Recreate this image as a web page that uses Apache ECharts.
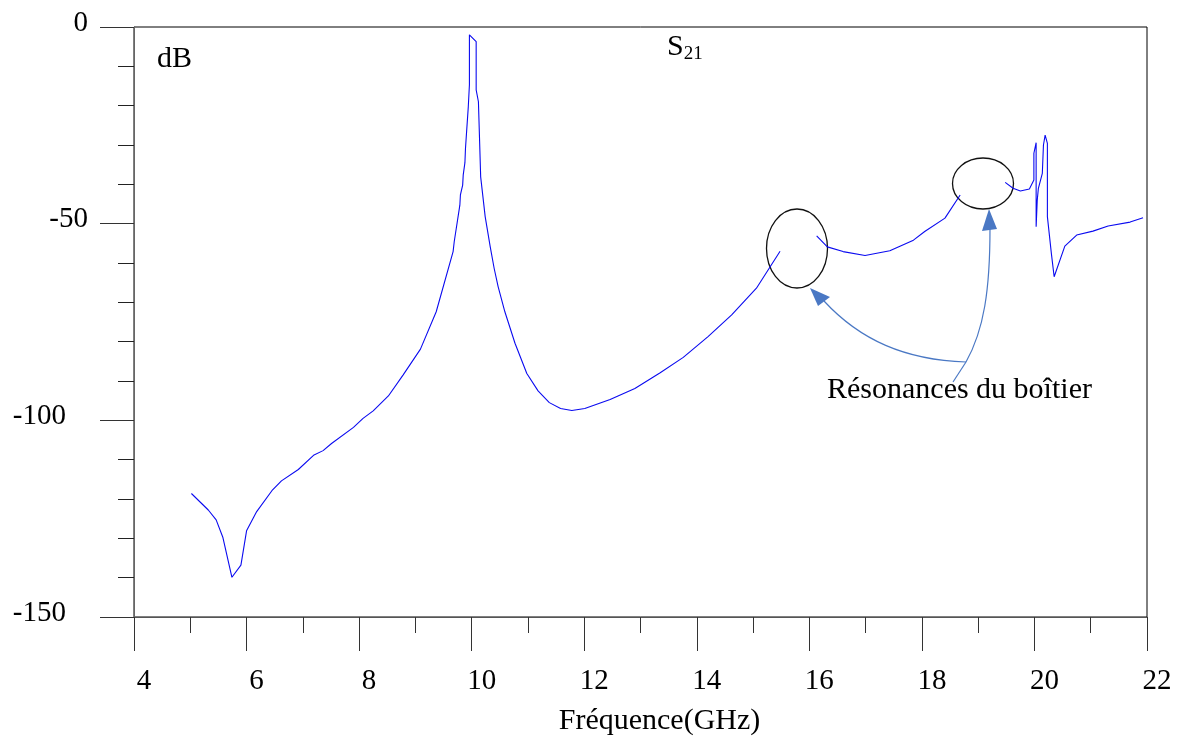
<!DOCTYPE html>
<html>
<head>
<meta charset="utf-8">
<script src="https://cdn.jsdelivr.net/npm/echarts@6/dist/echarts.min.js"></script>
<style>
  html, body { margin:0; padding:0; background:#fff; }
  #main { width:1182px; height:749px; }
</style>
</head>
<body>
<div id="main"></div>
<script>
// S21 en dB, trois morceaux (coupures dans les ellipses)
var freq1 = [5.02,5.32,5.46,5.58,5.74,5.90,6.00,6.18,6.45,6.62,6.92,7.19,7.36,7.51,7.90,8.07,8.25,8.52,8.78,9.09,
             9.37,9.67,9.69,9.79,9.80,9.84,9.85,9.88,9.89,9.91,9.94,9.96,9.96,10.08,10.08,10.12,10.16,10.24,10.33,10.40,
             10.47,10.59,10.77,10.98,11.18,11.38,11.58,11.78,12.01,12.46,12.90,13.35,13.76,14.20,14.62,15.06,15.48];
var db1 = [-118.6,-122.8,-125.3,-129.8,-139.9,-136.8,-128.1,-123.2,-117.9,-115.4,-112.5,-108.9,-107.7,-105.9,-101.8,-99.5,-97.6,-93.8,-88.5,-81.9,
           -72.4,-57.1,-54.6,-45.3,-42.7,-40.2,-37.6,-34.5,-30.9,-26.6,-20.3,-14.7,-2.0,-3.7,-16.0,-19.0,-38.1,-48.2,-55.9,-61.4,
           -66.0,-72.4,-80.4,-88.1,-92.5,-95.5,-97.0,-97.5,-97.0,-94.7,-91.9,-87.9,-84.0,-78.7,-73.2,-66.4,-57.0];
var freq2 = [16.13,16.32,16.60,16.99,17.43,17.85,18.05,18.41,18.68];
var db2 = [-53.1,-55.9,-57.1,-58.1,-56.9,-54.2,-52.0,-48.6,-42.7];
var freq3 = [19.48,19.62,19.75,19.91,19.99,19.99,20.03,20.03,20.05,20.07,20.14,20.16,20.19,20.23,20.23,20.30,20.35,20.54,20.75,21.04,21.31,21.70,21.93];
var db3 = [-39.5,-41.0,-41.7,-41.2,-38.9,-32.1,-29.4,-50.8,-44.0,-41.0,-37.2,-30.0,-27.5,-29.6,-48.2,-57.5,-63.5,-55.7,-52.9,-51.9,-50.6,-49.6,-48.5];

var yLabels = ['0','-50','-100','-150'];

function pairs(xs, ys){
  var out = [];
  for (var i = 0; i < xs.length; i++) out.push([xs[i], ys[i]]);
  return out;
}

var font = 'Liberation Serif';
var blue = '#0a0af0';
var arrowBlue = '#4a78c4';

var lineSerie = function(d){
  return {
    type:'line', data:d, showSymbol:false, smooth:false,
    lineStyle:{color:blue, width:1.1}, silent:true
  };
};

var chart = echarts.init(document.getElementById('main'));
var option = {
  animation:false,
  backgroundColor:'#fff',
  grid:{left:134, right:35, top:27, bottom:132, show:true, borderColor:'#000', borderWidth:1},
  xAxis:{
    type:'value', min:4, max:22, interval:2,
    name:'Fréquence(GHz)', nameLocation:'middle', nameGap:89,
    nameTextStyle:{fontFamily:font, fontSize:30, color:'#000', padding:[0,0,0,38]},
    axisLine:{onZero:false, lineStyle:{color:'#555', width:1}},
    axisTick:{length:34, lineStyle:{color:'#333'}},
    minorTick:{show:true, splitNumber:2, length:16, lineStyle:{color:'#333'}},
    splitLine:{show:false},
    axisLabel:{fontFamily:font, fontSize:29, color:'#000', margin:50, padding:[0,0,0,20]}
  },
  yAxis:{
    type:'value', min:-150, max:0, interval:50,
    axisLine:{lineStyle:{color:'#666', width:1}},
    axisTick:{length:34, lineStyle:{color:'#333'}},
    minorTick:{show:true, splitNumber:5, length:16, lineStyle:{color:'#222'}},
    splitLine:{show:false},
    axisLabel:{color:'#000', margin:46,
      formatter:function(v){
        var i = Math.round(-v/50);
        return (i >= 2 ? '{w|' : '{n|') + yLabels[i] + '}';
      },
      rich:{
        n:{fontFamily:font, fontSize:29, color:'#000', padding:[0,0,8,0]},
        w:{fontFamily:font, fontSize:29, color:'#000', padding:[0,22,8,0]}
      }}
  },
  series:[
    lineSerie(pairs(freq1, db1)),
    lineSerie(pairs(freq2, db2)),
    lineSerie(pairs(freq3, db3))
  ],
  graphic:[
    {type:'text', left:157, top:44, style:{text:'dB', font:'30px "Liberation Serif"', fill:'#000'}},
    {type:'text', left:667, top:32, style:{
      text:'{s|S}{b|21}', fill:'#000',
      rich:{s:{fontFamily:font, fontSize:30, color:'#000'},
            b:{fontFamily:font, fontSize:19, color:'#000', padding:[15,0,0,0]}}}},
    {type:'text', left:827, top:375, style:{text:'Résonances du boîtier', font:'30px "Liberation Serif"', fill:'#000'}},
    {type:'ellipse', shape:{cx:797, cy:248.5, rx:30.5, ry:39.5}, style:{fill:'none', stroke:'#111', lineWidth:1.3}},
    {type:'ellipse', shape:{cx:983, cy:183.5, rx:30.5, ry:25.5}, style:{fill:'none', stroke:'#111', lineWidth:1.3}},
    {type:'bezierCurve', shape:{x1:966, y1:362, cpx1:905, cpy1:360, cpx2:860, cpy2:340, x2:824, y2:301},
      style:{fill:'none', stroke:arrowBlue, lineWidth:1.2}},
    {type:'polygon', shape:{points:[[810,288],[818,306],[830,297]]}, style:{fill:arrowBlue}},
    {type:'line', shape:{x1:953, y1:382, x2:966, y2:362}, style:{stroke:arrowBlue, lineWidth:1.2}},
    {type:'bezierCurve', shape:{x1:966, y1:362, cpx1:984, cpy1:330, cpx2:990, cpy2:290, x2:990, y2:228},
      style:{fill:'none', stroke:arrowBlue, lineWidth:1.2}},
    {type:'polygon', shape:{points:[[989,209],[982,231],[997,229]]}, style:{fill:arrowBlue}}
  ]
};
chart.setOption(option);
</script>
</body>
</html>
